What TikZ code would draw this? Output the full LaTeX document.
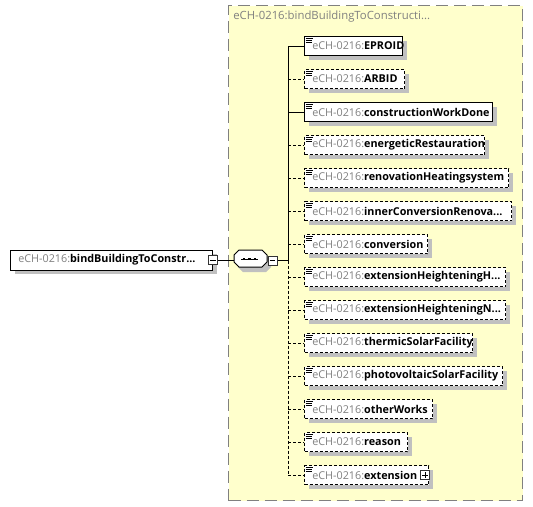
\documentclass[tikz,border=0pt]{standalone}
\usepackage{fontspec}
\setmainfont{Open Sans}
\usetikzlibrary{shadows}
\definecolor{ybg}{HTML}{FFFFCC}
\definecolor{ybord}{HTML}{808080}
\definecolor{pfx}{HTML}{808080}
\definecolor{shd}{HTML}{C0C0C0}
\tikzset{
  ebox/.style={draw=black, fill=white, line width=0.75pt, minimum height=14.25pt, inner sep=0pt,
     drop shadow={shadow xshift=3pt, shadow yshift=-3pt, fill=shd, opacity=1}},
  optbox/.style={dash pattern=on 2.25pt off 1.5pt},
  reqbox/.style={},
  etext/.style={inner sep=0pt, font=\fontsize{8.1}{9.5}\selectfont, text=black},
  ttext/.style={inner sep=0pt, font=\fontsize{8.5}{10}\selectfont, text=pfx},
  conn/.style={line width=0.75pt, draw=black},
  optconn/.style={conn, dash pattern=on 2.25pt off 1.5pt},
  iconl/.style={line width=0.75pt, draw=black},
  pmbox/.style={draw=black!80, fill=white, line width=0.75pt, minimum width=6.75pt, minimum height=6.75pt, inner sep=0pt},
}
\newcommand\elemrow[5]{%
  \node[ebox,#5, minimum width={(#3-304)*0.75pt}, anchor=west] (#1) at (304,#2) {};
  \node[etext, anchor=west] (#1t) at ([xshift=6pt]#1.west) {\textcolor{pfx}{eCH-0216:}\textbf{#4}};
  \draw[iconl] ([shift={(1.5,2.5)}]#1.north west) -- ++(7,0);
  \draw[iconl] ([shift={(1.5,4.5)}]#1.north west) -- ++(6,0);
  \draw[iconl] ([shift={(1.5,6.5)}]#1.north west) -- ++(6,0);
}
\begin{document}
\begin{tikzpicture}[x=0.75pt,y=-0.75pt]
\useasboundingbox (0,0) rectangle (533,507);
% yellow group box
\node[draw=ybord, fill=ybg, line width=0.75pt, dash pattern=on 9pt off 4.5pt, inner sep=0pt,
      minimum width={294*0.75pt}, minimum height={495*0.75pt}, anchor=north west] (grp) at (228,5) {};
\node[ttext, anchor=west] (grptitle) at (233,17) {eCH-0216:bindBuildingToConstructi...};
% left root element
\node[ebox, reqbox, minimum width={202*0.75pt}, minimum height=15pt, anchor=west] (root) at (10,260) {};
\node[etext, anchor=west] (roott) at ([xshift=6pt]root.west) {\textcolor{pfx}{eCH-0216:}\textbf{bindBuildingToConstr...}};
\node[pmbox] (rootm) at (root.east) {};
\draw[line width=0.6pt] ([xshift=-2.2pt]rootm.center) -- ([xshift=2.2pt]rootm.center);
% sequence compositor
\fill[shd] (238,260) -- (243,255) -- (266,255) -- (271,260) -- (271,267) -- (266,272) -- (243,272) -- (238,267) -- cycle;
\node[inner sep=0pt, minimum width={33*0.75pt}, minimum height={17*0.75pt}] (seq) at (250.5,260) {};
\draw[line width=0.75pt, fill=white] (234,255) -- (239,250) -- (262,250) -- (267,255) -- (267,262) -- (262,267) -- (239,267) -- (234,262) -- cycle;
\draw[line width=0.75pt] (241,259) -- (258,259);
\foreach \xx in {244,249.5,255} \fill (\xx-1.3,257.7) rectangle (\xx+1.3,260.3);
\node[pmbox] (seqm) at (272.5,260.5) {};
\draw[line width=0.6pt] ([xshift=-2.2pt]seqm.center) -- ([xshift=2.2pt]seqm.center);
\draw[conn] (rootm.east) -- (seq.west);
\coordinate (vj) at (288,260.5);
\draw[conn] (seqm.east) -- (vj);
% elements
\elemrow{e1}{46}{402}{EPROID}{reqbox}
\elemrow{e2}{79}{404}{ARBID}{optbox}
\elemrow{e3}{112}{492}{constructionWorkDone}{reqbox}
\elemrow{e4}{145}{484}{energeticRestauration}{optbox}
\elemrow{e5}{178}{508}{renovationHeatingsystem}{optbox}
\elemrow{e6}{211}{511}{innerConversionRenova...}{optbox}
\elemrow{e7}{244}{427}{conversion}{optbox}
\elemrow{e8}{277}{505}{extensionHeighteningH...}{optbox}
\elemrow{e9}{310}{505}{extensionHeighteningN...}{optbox}
\elemrow{e10}{343}{472}{thermicSolarFacility}{optbox}
\elemrow{e11}{376}{502}{photovoltaicSolarFacility}{optbox}
\elemrow{e12}{409}{432}{otherWorks}{optbox}
\elemrow{e13}{442}{407}{reason}{optbox}
\elemrow{e14}{475}{428}{extension}{optbox}
\node[pmbox] (e14p) at ([xshift=-3pt]e14.east) {};
\draw[line width=0.6pt] ([xshift=-2.2pt]e14p.center) -- ([xshift=2.2pt]e14p.center);
\draw[line width=0.6pt] ([yshift=-2.2pt]e14p.center) -- ([yshift=2.2pt]e14p.center);
% vertical spine
\draw[conn] (vj |- e1.west) -- (vj);
\draw[optconn] (vj) -- (vj |- e14.west);
% branches
\draw[conn] (vj |- e1.west) -- (e1.west);
\draw[optconn] (vj |- e2.west) -- (e2.west);
\draw[conn] (vj |- e3.west) -- (e3.west);
\foreach \n in {e4,e5,e6,e7,e8,e9,e10,e11,e12,e13,e14}
  \draw[optconn] (vj |- \n.west) -- (\n.west);
\end{tikzpicture}
\end{document}
